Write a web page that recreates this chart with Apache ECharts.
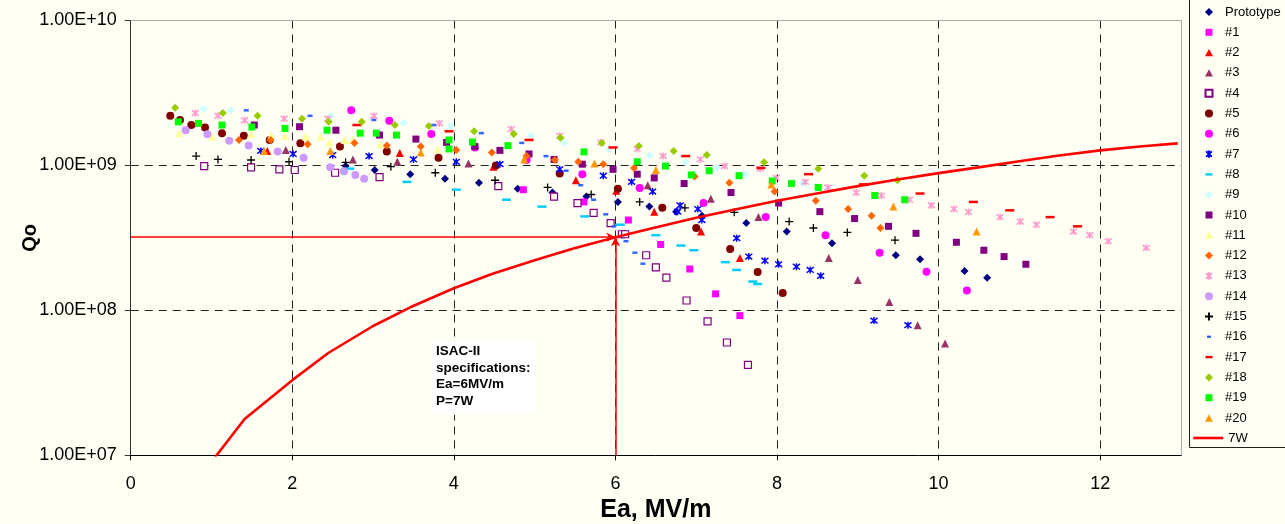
<!DOCTYPE html>
<html><head><meta charset="utf-8">
<script src="https://cdn.jsdelivr.net/npm/echarts@6/dist/echarts.min.js"></script>
<style>html,body{margin:0;padding:0;background:#fffff4}#c{width:1285px;height:524px}</style>
</head><body><div id="c"></div><script>
// ---- data (Ea [MV/m], Qo) ----
const names = ['Prototype','#1','#2','#3','#4','#5','#6','#7','#8','#9','#10','#11','#12','#13','#14','#15','#16','#17','#18','#19','#20'];
const sProto = [[2.66,9.9e8],[3.02,9.3e8],[3.46,8.7e8],[3.89,8.1e8],[4.31,7.6e8],[4.79,6.9e8],[5.22,6.5e8],[5.64,6.1e8],[6.03,5.6e8],[6.42,5.2e8],[6.75,4.8e8],[7.07,4.5e8],[7.62,4.0e8],[8.12,3.5e8],[8.68,2.9e8],[9.47,2.4e8],[9.77,2.25e8],[10.32,1.87e8],[10.60,1.68e8]];
const s1 = [[4.86,6.8e8],[5.61,5.6e8],[6.16,4.2e8],[6.56,2.85e8],[6.92,1.93e8],[7.24,1.3e8],[7.54,9.2e7]];
const s2 = [[1.69,1.26e9],[3.33,1.22e9],[4.49,9.8e8],[5.51,7.9e8],[6.01,6.7e8],[6.48,4.8e8],[7.06,3.5e8],[7.54,2.3e8]];
const s3 = [[1.92,1.28e9],[2.75,1.1e9],[3.30,1.06e9],[4.18,1.03e9],[6.40,7.3e8],[7.18,5.9e8],[7.77,4.4e8],[8.64,2.3e8],[9.0,1.62e8],[9.39,1.14e8],[9.74,7.9e7],[10.08,5.9e7]];
const s4 = [[0.91,9.9e8],[1.49,9.7e8],[1.84,9.4e8],[2.03,9.3e8],[2.53,8.9e8],[3.08,8.3e8],[4.55,7.2e8],[5.24,6.1e8],[5.53,5.5e8],[5.73,4.7e8],[5.94,4.0e8],[6.08,3.35e8],[6.12,3.35e8],[6.38,2.4e8],[6.50,1.98e8],[6.63,1.68e8],[6.88,1.17e8],[7.14,8.4e7],[7.38,6.0e7],[7.64,4.2e7]];
const s5 = [[0.49,2.2e9],[0.61,2.06e9],[0.75,1.9e9],[0.92,1.83e9],[1.13,1.67e9],[1.40,1.6e9],[1.72,1.5e9],[2.10,1.42e9],[2.59,1.35e9],[3.17,1.25e9],[3.81,1.13e9],[4.52,1.0e9],[5.31,8.8e8],[6.03,6.9e8],[6.58,5.1e8],[7.0,3.7e8],[7.42,2.65e8],[7.76,1.84e8],[8.07,1.32e8]];
const s6 = [[2.73,2.4e9],[3.2,2.03e9],[3.72,1.65e9],[4.26,1.33e9],[4.90,1.09e9],[5.59,8.7e8],[6.30,7.0e8],[7.09,5.5e8],[7.86,4.4e8],[8.60,3.3e8],[9.27,2.5e8],[9.85,1.85e8],[10.35,1.37e8]];
const s7 = [[1.61,1.26e9],[2.01,1.2e9],[2.50,1.18e9],[2.95,1.16e9],[3.50,1.1e9],[4.03,1.06e9],[4.57,1.02e9],[5.31,9.4e8],[5.85,8.5e8],[6.20,7.7e8],[6.46,6.6e8],[6.80,5.3e8],[6.77,4.8e8],[7.02,5.0e8],[7.07,4.2e8],[7.50,3.15e8],[7.65,2.35e8],[7.85,2.2e8],[8.02,2.08e8],[8.24,2.0e8],[8.41,1.9e8],[8.54,1.73e8],[9.20,8.5e7],[9.62,7.9e7]];
const s8 = [[2.71,9.5e8],[3.42,7.7e8],[4.03,6.8e8],[4.65,5.8e8],[5.09,5.2e8],[5.62,4.45e8],[6.06,3.9e8],[6.50,3.3e8],[6.81,2.8e8],[6.97,2.6e8],[7.36,2.15e8],[7.50,1.9e8],[7.70,1.58e8],[7.76,1.52e8]];
const s9 = [[0.90,2.45e9],[1.24,2.4e9],[2.48,2.2e9],[3.38,1.97e9],[3.96,1.87e9],[4.95,1.6e9],[5.37,1.44e9],[5.92,1.3e9],[6.42,1.17e9],[6.87,1.05e9],[7.26,9.7e8],[7.61,8.7e8],[8.32,7.5e8],[8.65,6.8e8]];
const s10 = [[1.53,1.9e9],[2.09,1.85e9],[2.54,1.75e9],[3.08,1.62e9],[3.53,1.52e9],[3.91,1.44e9],[4.26,1.35e9],[4.57,1.27e9],[4.93,1.2e9],[5.24,1.1e9],[5.59,1.02e9],[5.97,9.4e8],[6.27,8.7e8],[6.48,8.2e8],[6.85,7.5e8],[7.43,6.5e8],[8.02,5.5e8],[8.53,4.8e8],[8.96,4.3e8],[9.38,3.8e8],[9.72,3.4e8],[10.22,2.95e8],[10.56,2.6e8],[10.81,2.35e8],[11.08,2.08e8]];
const s11 = [[0.60,1.67e9],[1.01,1.58e9],[1.49,1.65e9],[1.74,1.62e9],[1.91,1.6e9],[2.17,1.58e9],[2.35,1.58e9],[2.46,1.44e9],[2.65,1.5e9],[2.75,1.5e9],[3.09,1.4e9],[3.80,1.3e9]];
const s12 = [[1.34,1.5e9],[1.73,1.5e9],[2.19,1.4e9],[2.77,1.43e9],[3.17,1.37e9],[3.59,1.35e9],[4.03,1.28e9],[4.47,1.23e9],[4.90,1.16e9],[5.25,1.09e9],[5.54,1.06e9],[5.85,1.02e9],[6.23,9.6e8],[6.98,8.4e8],[7.41,7.6e8],[7.97,6.6e8],[8.48,5.7e8],[8.88,5.0e8],[9.17,4.5e8],[9.28,3.7e8]];
const s13 = [[0.80,2.3e9],[1.08,2.2e9],[1.41,2.05e9],[1.90,2.1e9],[2.44,2.1e9],[3.01,2.2e9],[3.82,1.95e9],[4.71,1.78e9],[5.31,1.6e9],[5.82,1.44e9],[6.27,1.3e9],[6.59,1.16e9],[7.05,1.1e9],[7.35,9.9e8],[7.79,9.5e8],[7.99,8.2e8],[8.35,7.7e8],[8.63,7.05e8],[8.98,6.5e8],[9.29,6.2e8],[9.64,5.8e8],[9.91,5.3e8],[10.19,5.0e8],[10.37,4.77e8],[10.76,4.4e8],[11.01,4.1e8],[11.21,3.9e8],[11.67,3.5e8],[11.87,3.3e8],[12.10,3.0e8],[12.57,2.7e8]];
const s14 = [[0.68,1.75e9],[0.95,1.64e9],[1.22,1.48e9],[1.46,1.37e9],[1.82,1.25e9],[2.14,1.13e9],[2.47,9.7e8],[2.64,9.1e8],[2.78,8.6e8],[2.89,8.1e8]];
const s15 = [[0.81,1.16e9],[1.08,1.1e9],[1.49,1.09e9],[1.96,1.06e9],[2.66,1.05e9],[3.22,9.8e8],[3.77,8.9e8],[4.51,7.9e8],[5.16,7.05e8],[5.70,6.3e8],[6.30,5.6e8],[6.86,5.1e8],[7.47,4.75e8],[8.15,4.1e8],[8.45,3.7e8],[8.87,3.45e8],[9.46,3.05e8]];
const s16 = [[1.43,2.4e9],[2.22,2.2e9],[3.01,2.06e9],[3.75,1.9e9],[4.34,1.67e9],[4.84,1.43e9],[5.14,1.16e9],[5.39,9.2e8],[5.57,7.3e8],[5.73,5.8e8],[5.88,4.6e8],[5.98,3.8e8],[6.13,3.0e8],[6.24,2.5e8],[6.34,2.1e8]];
const s17 = [[2.80,1.9e9],[3.94,1.72e9],[4.93,1.5e9],[5.97,1.33e9],[6.87,1.16e9],[7.80,9.6e8],[8.39,8.7e8],[9.07,7.4e8],[9.77,6.4e8],[10.43,5.6e8],[10.88,4.9e8],[11.38,4.4e8],[11.72,3.8e8]];
const s18 = [[0.55,2.5e9],[1.14,2.3e9],[1.57,2.2e9],[2.12,2.1e9],[2.45,2.0e9],[2.86,2.0e9],[3.27,1.9e9],[3.69,1.87e9],[4.25,1.72e9],[4.74,1.65e9],[5.32,1.55e9],[5.83,1.43e9],[6.29,1.36e9],[6.72,1.26e9],[7.13,1.18e9],[7.84,1.05e9],[8.51,9.5e8],[9.08,8.5e8],[9.49,7.9e8]];
const s19 = [[0.59,2.0e9],[0.84,1.95e9],[1.13,1.9e9],[1.50,1.84e9],[1.91,1.8e9],[2.43,1.75e9],[2.84,1.67e9],[3.04,1.67e9],[3.29,1.62e9],[3.94,1.5e9],[3.94,1.3e9],[4.23,1.45e9],[4.67,1.37e9],[5.61,1.24e9],[6.27,1.06e9],[6.62,9.9e8],[6.94,8.6e8],[7.16,9.2e8],[7.53,8.5e8],[7.94,7.8e8],[8.18,7.5e8],[8.51,7.05e8],[9.21,6.2e8],[9.58,5.8e8]];
const s20 = [[1.65,1.26e9],[2.47,1.26e9],[3.59,1.23e9],[4.87,1.1e9],[5.74,1.03e9],[6.50,9.3e8],[7.93,7.4e8],[9.44,5.2e8],[10.47,3.5e8]];
const w7Ea = [1.0,1.41,2.0,2.45,3.0,3.46,4.0,4.47,5.0,5.48,6.0,6.48,7.0,7.48,8.0,8.49,9.0,9.49,10.0,10.49,11.0,11.49,12.0,12.49,12.96];
const w7Q  = [9.0e6,1.78e7,3.3e7,5.1e7,7.8e7,1.05e8,1.42e8,1.78e8,2.22e8,2.67e8,3.2e8,3.72e8,4.35e8,4.97e8,5.7e8,6.4e8,7.2e8,8.0e8,8.85e8,9.7e8,1.07e9,1.17e9,1.27e9,1.35e9,1.42e9];
const specEa = 6.0, specQ = 3.2e8;
const xTicks = [0,2,4,6,8,10,12];
const allSeries = [sProto,s1,s2,s3,s4,s5,s6,s7,s8,s9,s10,s11,s12,s13,s14,s15,s16,s17,s18,s19,s20];

// ---- styles ----
const BG = '#fffff4';
const ASTER = 'path://M1,1L9,9M9,1L1,9M5,0L5,10';
const PLUS = 'path://M5,0L5,10M0,5L10,5';
// legend icons: 22x8 box with the marker drawn in the middle
const LI = {
  diamond:'path://M0,0M22,8M11,0L15,4L11,8L7,4Z',
  rect:'path://M0,0M22,8M7.5,0.5L14.5,0.5L14.5,7.5L7.5,7.5Z',
  circle:'path://M0,0M22,8M15,4A4,4,0,1,1,7,4A4,4,0,1,1,15,4Z',
  triangle:'path://M0,0M22,8M11,0.3L15,7.7L7,7.7Z',
  aster:'path://M0,0M22,8M8.2,1.2L13.8,6.8M13.8,1.2L8.2,6.8M11,0.3L11,7.7',
  plus:'path://M0,0M22,8M11,0L11,8M7,4L15,4',
  dash:'path://M0,0M22,8M7.5,2.8L14.5,2.8L14.5,5.2L7.5,5.2Z',
  dashS:'path://M0,0M22,8M9,2.8L13,2.8L13,5.2L9,5.2Z'
};
const styles = [
 {symbol:'diamond', size:8, color:'#000080', icon:LI.diamond},
 {symbol:'rect', size:7, color:'#ff00ff', icon:LI.rect},
 {symbol:'triangle', size:8, color:'#ff0000', icon:LI.triangle},
 {symbol:'triangle', size:8, color:'#993366', icon:LI.triangle},
 {symbol:'rect', size:7, color:BG, border:'#800080', bw:1.2, icon:LI.rect},
 {symbol:'circle', size:8, color:'#800000', icon:LI.circle},
 {symbol:'circle', size:8, color:'#ff00ff', icon:LI.circle},
 {symbol:ASTER, size:7, color:'rgba(0,0,0,0)', border:'#0000ff', bw:1.5, icon:LI.aster},
 {symbol:'rect', size:[9,2.5], color:'#00ccff', icon:LI.dash},
 {symbol:'diamond', size:8, color:'#ccffff', icon:LI.diamond},
 {symbol:'rect', size:7, color:'#800080', icon:LI.rect},
 {symbol:'triangle', size:8, color:'#ffff99', icon:LI.triangle},
 {symbol:'diamond', size:8, color:'#ff6600', icon:LI.diamond},
 {symbol:ASTER, size:7, color:'rgba(0,0,0,0)', border:'#ff99cc', bw:1.5, icon:LI.aster},
 {symbol:'circle', size:8, color:'#cc99ff', icon:LI.circle},
 {symbol:PLUS, size:8, color:'rgba(0,0,0,0)', border:'#000000', bw:1.3, icon:LI.plus},
 {symbol:'rect', size:[5,2.5], color:'#3366ff', icon:LI.dashS},
 {symbol:'rect', size:[9,2.5], color:'#ff0000', icon:LI.dash},
 {symbol:'diamond', size:8, color:'#99cc00', icon:LI.diamond},
 {symbol:'rect', size:7, color:'#00ff00', icon:LI.rect},
 {symbol:'triangle', size:8, color:'#ff9900', icon:LI.triangle}
];
const FONT = 'Arial, "Liberation Sans", sans-serif';

function fmtE(v){
  const e = Math.round(Math.log10(v));
  const m = v/Math.pow(10,e);
  return m.toFixed(2)+'E+'+(e<10?'0':'')+e;
}

const series = allSeries.map((d,i)=>{
  const st = styles[i];
  return {
    name:names[i], type:'scatter', data:d,
    symbol:st.symbol, symbolSize:st.size,
    itemStyle:{color:st.color, borderColor:st.border||st.color, borderWidth:st.bw||0, opacity:1},
    emphasis:{disabled:true}, silent:true
  };
});
series.push({
  name:'7W', type:'line', data:w7Ea.map((x,i)=>[x,w7Q[i]]),
  symbol:'none', showSymbol:false, smooth:false, clip:true,
  lineStyle:{color:'#ff0000', width:2.6}, itemStyle:{color:'#ff0000'},
  emphasis:{disabled:true}, silent:true, z:3,
  markLine:{
    silent:true, symbol:['none','arrow'], symbolSize:[7,9], animation:false,
    label:{show:false},
    lineStyle:{color:'#ff0000', width:1.5, type:'solid'},
    data:[
      [{coord:[0,specQ]},{coord:[specEa,specQ]}],
      [{coord:[specEa,1e7]},{coord:[specEa,specQ]}]
    ]
  }
});

const chart = echarts.init(document.getElementById('c'), null, {renderer:'canvas'});
chart.setOption({
  animation:false,
  backgroundColor:BG,
  textStyle:{fontFamily:FONT},
  grid:{left:130.7, right:104, top:20.5, bottom:68.7, containLabel:false, outerBoundsMode:'none'},
  xAxis:[{
    type:'value', min:0, max:13, interval:2,
    name:'Ea, MV/m', nameLocation:'middle', nameGap:42, nameMoveOverlap:false,
    nameTextStyle:{fontSize:25, fontWeight:'bold', color:'#000', fontFamily:FONT},
    axisLine:{show:true, onZero:false, lineStyle:{color:'#000', width:1}},
    axisTick:{show:true, inside:false, length:5, lineStyle:{color:'#000'}},
    axisLabel:{show:true, fontSize:18, color:'#000', margin:20, showMaxLabel:false, fontFamily:FONT,
      formatter:v=> xTicks.indexOf(v)>=0 ? String(v) : ''},
    splitLine:{show:true, showMinLine:false, showMaxLine:false, lineStyle:{color:'#222', type:[8,6], width:1}}
  },{
    type:'value', min:0, max:13, position:'top',
    axisLine:{show:true, onZero:false, lineStyle:{color:'#aaa', width:1}},
    axisTick:{show:false}, axisLabel:{show:false}, splitLine:{show:false}
  }],
  yAxis:[{
    type:'log', logBase:10, min:1e7, max:1e10,
    name:'Qo', nameLocation:'middle', nameGap:90, nameMoveOverlap:false,
    nameTextStyle:{fontSize:20, fontWeight:'bold', color:'#000', fontFamily:FONT},
    axisLine:{show:true, onZero:false, lineStyle:{color:'#333', width:1}},
    axisTick:{show:true, inside:false, length:6, lineStyle:{color:'#333'}},
    axisLabel:{show:true, fontSize:18, color:'#000', margin:14, formatter:fmtE, fontFamily:FONT},
    splitLine:{show:true, showMinLine:false, showMaxLine:false, lineStyle:{color:'#222', type:[8,6], width:1}},
    minorTick:{show:false}, minorSplitLine:{show:false}
  },{
    type:'log', logBase:10, min:1e7, max:1e10, position:'right',
    axisLine:{show:true, onZero:false, lineStyle:{color:'#aaa', width:1}},
    axisTick:{show:false}, axisLabel:{show:false}, splitLine:{show:false}
  }],
  legend:[{
    data:names.map((n,i)=> ({name:n, icon:styles[i].icon})),
    orient:'vertical', left:1197, top:5, padding:0,
    itemWidth:22, itemHeight:8, itemGap:6.3, selectedMode:false,
    textStyle:{fontSize:13, color:'#000', fontFamily:FONT, lineHeight:14}
  },{
    data:['7W'], orient:'vertical', left:1192, top:431, padding:0,
    itemWidth:30, itemHeight:7, selectedMode:false,
    itemStyle:{color:'rgba(0,0,0,0)', borderWidth:0},
    lineStyle:{color:'#ff0000', width:2.6},
    textStyle:{fontSize:13, color:'#000', fontFamily:FONT, lineHeight:14}
  }],
  graphic:[
    {type:'rect', silent:true, z:100,
      shape:{x:1189.5, y:-1, width:120, height:448.5},
      style:{fill:'none', stroke:'#222', lineWidth:1}},
    {type:'text', silent:true, z:100, x:433, y:342,
      style:{text:'ISAC-II\nspecifications:\nEa=6MV/m\nP=7W', font:'bold 13.5px '+FONT, fill:'#000',
        lineHeight:16.7, align:'left', verticalAlign:'top',
        backgroundColor:'#ffffff', padding:[1,6,5,3]}}
  ],
  series:series
});
</script></body></html>
